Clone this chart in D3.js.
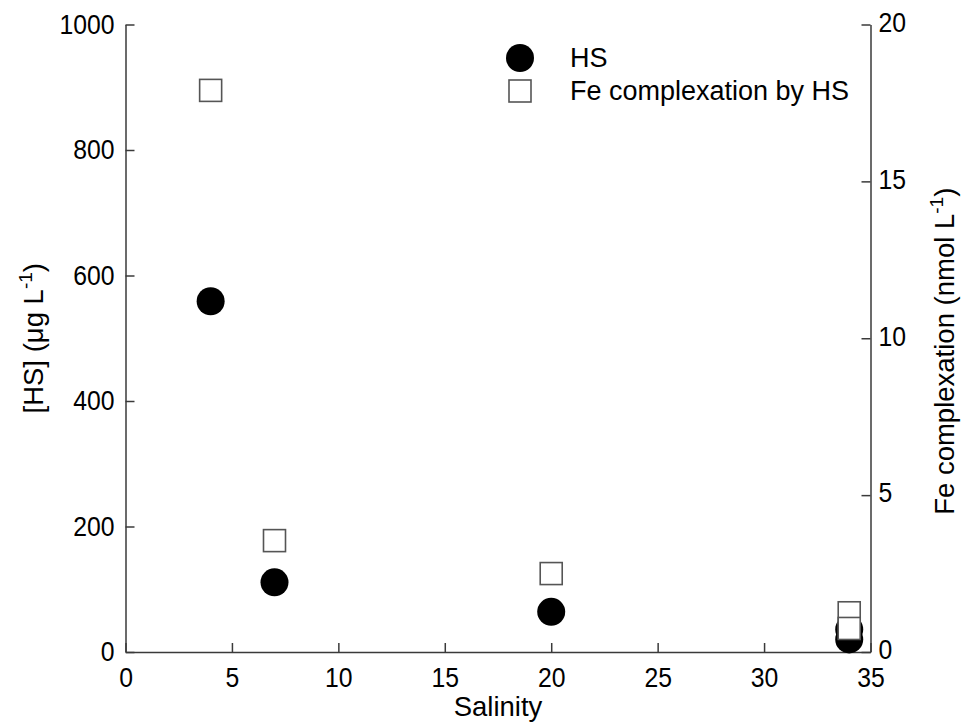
<!DOCTYPE html>
<html>
<head>
<meta charset="utf-8">
<script src="https://cdn.jsdelivr.net/npm/d3@7"></script>
<style>
  html, body { margin: 0; padding: 0; background: #fff; }
  svg text { font-family: "Liberation Sans", Arial, sans-serif; fill: #000; }
</style>
</head>
<body>
<svg id="chart" width="961" height="723"></svg>
<script>
// Humic substances (HS) and Fe complexation by HS along a salinity gradient
const hsSalinity = [4, 7, 20, 34, 34];
const hsValues = [559, 111, 64, 36, 20];            // µg L-1
const feSalinity = [4, 7, 20, 34, 34];
const feValues = [17.9, 3.55, 2.5, 1.25, 0.75];     // nmol L-1

const xTicks = [0, 5, 10, 15, 20, 25, 30, 35];
const yLeftTicks = [0, 200, 400, 600, 800, 1000];
const yRightTicks = [0, 5, 10, 15, 20];

const seriesNames = ["HS", "Fe complexation by HS"];

const svg = d3.select("#chart");
const m = { left: 125.5, right: 870.5, top: 24.5, bottom: 652 };

const x = d3.scaleLinear().domain([0, 35]).range([m.left, m.right]);
const yL = d3.scaleLinear().domain([0, 1000]).range([m.bottom, m.top]);
const yR = d3.scaleLinear().domain([0, 20]).range([m.bottom, m.top]);

const axisColor = "#3a3a3a";
const tickFont = 27.5;
const squeeze = 0.9;   // slightly narrow digits on the tick labels

function styleAxis(g) {
  g.selectAll("path.domain").attr("stroke", axisColor).attr("stroke-width", 1.5);
  g.selectAll(".tick line").attr("stroke", axisColor).attr("stroke-width", 1.5);
  g.selectAll(".tick text")
    .attr("font-size", tickFont)
    .attr("font-family", "Liberation Sans, Arial, sans-serif")
    .attr("fill", "#000");
}

// bottom axis, ticks pointing inward
svg.append("g")
  .attr("transform", `translate(0,${m.bottom})`)
  .call(d3.axisBottom(x).tickValues(xTicks).tickFormat(d3.format("d"))
    .tickSize(-9).tickSizeOuter(0))
  .call(styleAxis)
  .call(g => g.selectAll(".tick text")
    .attr("y", 0).attr("dy", "0.71em")
    .attr("transform", `translate(0,15) scale(${squeeze},1)`));

// left axis
svg.append("g")
  .attr("transform", `translate(${m.left},0)`)
  .call(d3.axisLeft(yL).tickValues(yLeftTicks).tickFormat(d3.format("d"))
    .tickSize(-9).tickSizeOuter(0))
  .call(styleAxis)
  .call(g => g.selectAll(".tick text")
    .attr("x", 0)
    .attr("transform", `translate(-11,0) scale(${squeeze},1)`));

// right axis
svg.append("g")
  .attr("transform", `translate(${m.right},0)`)
  .call(d3.axisRight(yR).tickValues(yRightTicks).tickFormat(d3.format("d"))
    .tickSize(-9).tickSizeOuter(0))
  .call(styleAxis)
  .call(g => g.selectAll(".tick text")
    .attr("x", 0)
    .attr("transform", `translate(8,-2) scale(${squeeze},1)`));

// axis titles
const titleFont = 27.5;
svg.append("text")
  .attr("x", (m.left + m.right) / 2).attr("y", 716)
  .attr("text-anchor", "middle").attr("font-size", titleFont)
  .text("Salinity");

const yLabel = svg.append("text")
  .attr("transform", `translate(43,${(m.top + m.bottom) / 2}) rotate(-90)`)
  .attr("text-anchor", "middle").attr("font-size", titleFont);
yLabel.append("tspan").text("[HS] (μg L");
yLabel.append("tspan").attr("dy", -11).attr("font-size", 19).text("-1");
yLabel.append("tspan").attr("dy", 11).text(")");

const y2Label = svg.append("text")
  .attr("transform", `translate(954,${(m.top + m.bottom) / 2 + 13}) rotate(-90)`)
  .attr("text-anchor", "middle").attr("font-size", titleFont);
y2Label.append("tspan").text("Fe complexation (nmol L");
y2Label.append("tspan").attr("dy", -11).attr("font-size", 19).text("-1");
y2Label.append("tspan").attr("dy", 11).text(")");

// HS circles
const hsData = hsSalinity.map((s, i) => ({ s, v: hsValues[i] }));
svg.append("g").selectAll("circle")
  .data(hsData).join("circle")
  .attr("cx", d => x(d.s)).attr("cy", d => yL(d.v))
  .attr("r", 14).attr("fill", "#000");

// Fe complexation squares (drawn on top)
const sq = 22;
const feData = feSalinity.map((s, i) => ({ s, v: feValues[i] }));
svg.append("g").selectAll("rect")
  .data(feData).join("rect")
  .attr("x", d => x(d.s) - sq / 2).attr("y", d => yR(d.v) - sq / 2)
  .attr("width", sq).attr("height", sq)
  .attr("fill", "#fff").attr("stroke", "#555").attr("stroke-width", 1.6);

// legend
const legend = svg.append("g");
legend.append("circle").attr("cx", 520).attr("cy", 58).attr("r", 14).attr("fill", "#000");
legend.append("rect").attr("x", 509).attr("y", 80).attr("width", sq).attr("height", sq)
  .attr("fill", "#fff").attr("stroke", "#555").attr("stroke-width", 1.6);
legend.selectAll("text.lg")
  .data(seriesNames).join("text")
  .attr("class", "lg")
  .attr("x", 570).attr("y", (d, i) => 67 + i * 33)
  .attr("font-size", 27)
  .text(d => d);
</script>
</body>
</html>
